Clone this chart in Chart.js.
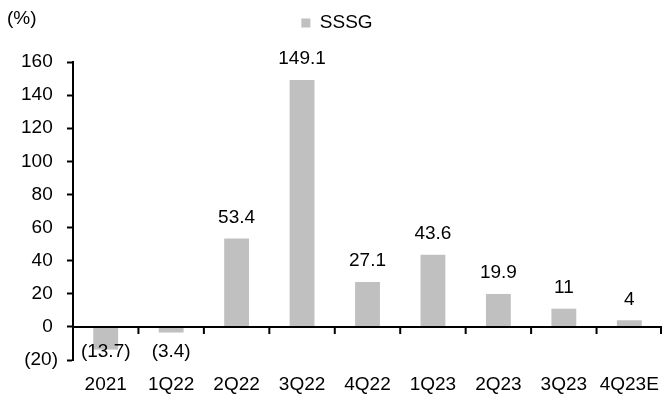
<!DOCTYPE html>
<html>
<head>
<meta charset="utf-8">
<script src="https://cdn.jsdelivr.net/npm/chart.js@4"></script>
<style>
  html, body { margin: 0; padding: 0; background: #fff; }
  #wrap { width: 662px; height: 394px; }
</style>
</head>
<body>
<div id="wrap"><canvas id="chart" width="662" height="394"></canvas></div>
<script>
const categories = [`2021`, `1Q22`, `2Q22`, `3Q22`, `4Q22`, `1Q23`, `2Q23`, `3Q23`, `4Q23E`];
const sssgValues = [-13.7, -3.4, 53.4, 149.1, 27.1, 43.6, 19.9, 11, 4];
const yTicks = [-20, 0, 20, 40, 60, 80, 100, 120, 140, 160];

const FONT = `"Liberation Sans", Arial, sans-serif`;
const FONT_SIZE = 19;
const BAR_COLOR = `#c0c0c0`;

const fmt = (v) => (v < 0 ? `(${Math.abs(v)})` : `${v}`);

// zero line with tick marks, unit label and bar value labels
const extras = {
  id: `extras`,
  afterDatasetsDraw(chart) {
    const {ctx, chartArea, scales: {y}} = chart;
    const y0 = y.getPixelForValue(0);
    const step = (chartArea.right - chartArea.left) / categories.length;

    ctx.save();
    ctx.strokeStyle = `#000`;
    ctx.lineWidth = 2;
    ctx.beginPath();
    ctx.moveTo(chartArea.left, y0);
    ctx.lineTo(chartArea.right, y0);
    for (let i = 1; i <= categories.length; i++) {
      const px = Math.min(chartArea.left + step * i, chartArea.right - 1);
      ctx.moveTo(px, y0);
      ctx.lineTo(px, y0 + 7);
    }
    ctx.stroke();

    ctx.fillStyle = `#000`;
    ctx.font = `${FONT_SIZE}px ${FONT}`;
    ctx.textAlign = `center`;
    ctx.textBaseline = `middle`;
    const meta = chart.getDatasetMeta(0);
    meta.data.forEach((bar, i) => {
      const v = sssgValues[i];
      const ty = v < 0 ? y.getPixelForValue(-15) : bar.y - 21;
      ctx.fillText(fmt(v), bar.x, ty);
    });

    ctx.textAlign = `left`;
    ctx.fillText(`(%)`, 7, 19);
    ctx.restore();
  }
};

new Chart(document.getElementById(`chart`), {
  type: `bar`,
  plugins: [extras],
  data: {
    labels: categories,
    datasets: [{
      label: `SSSG`,
      data: sssgValues,
      backgroundColor: BAR_COLOR,
      borderWidth: 0,
      categoryPercentage: 1,
      barPercentage: 0.38
    }]
  },
  options: {
    responsive: false,
    animation: false,
    layout: {
      padding: {left: 12, right: 0, top: 0, bottom: 0}
    },
    plugins: {
      legend: {
        display: true,
        labels: {
          boxWidth: 9,
          boxHeight: 9,
          color: `#000`,
          padding: 13.5,
          font: {family: FONT, size: FONT_SIZE}
        }
      },
      // empty title used as a spacer between legend and plot
      title: {
        display: true,
        text: ` `,
        weight: 500,
        font: {size: 1},
        padding: {top: 0, bottom: 18.3}
      },
      tooltip: {enabled: false}
    },
    scales: {
      x: {
        grid: {display: false, drawTicks: false},
        border: {display: false},
        afterFit: (scale) => {
          scale.height = 34;
          scale.paddingLeft = 0;
          scale.paddingRight = 0;
        },
        ticks: {
          color: `#000`,
          padding: 13.6,
          maxRotation: 0,
          autoSkip: false,
          font: {family: FONT, size: FONT_SIZE}
        }
      },
      y: {
        min: -20,
        max: 160,
        afterBuildTicks: (scale) => {
          scale.ticks = yTicks.map((v) => ({value: v}));
        },
        afterFit: (scale) => {
          scale.width = 61;
          scale.paddingTop = 0;
          scale.paddingBottom = 0;
        },
        grid: {
          drawOnChartArea: false,
          drawTicks: true,
          tickLength: 6,
          tickWidth: 2,
          tickColor: `#000`
        },
        border: {display: true, color: `#000`, width: 2},
        ticks: {
          color: `#000`,
          padding: 9,
          font: {family: FONT, size: FONT_SIZE},
          callback: (v) => (v < 0 ? `(${Math.abs(v)})` : `${v} `)
        }
      }
    }
  }
});
</script>
</body>
</html>
